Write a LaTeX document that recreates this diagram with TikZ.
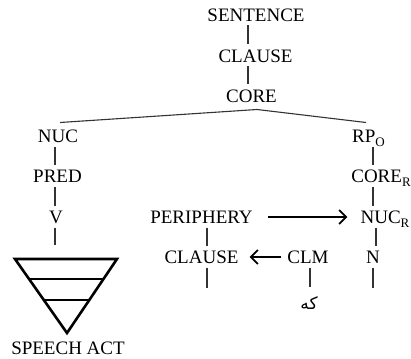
\documentclass[tikz,border=0pt]{standalone}
\usepackage{fontspec}
\setmainfont{Liberation Serif}
\newfontfamily\arabicfont[Script=Arabic]{DejaVu Sans}
\TeXXeTstate=1
\usetikzlibrary{calc,arrows.meta}
\newcommand\sub[1]{\raisebox{-4pt}{\fontsize{13}{13}\selectfont#1}}
\newcommand\stem[3]{\draw[branch](#1.south-|#3)--(#2.north-|#3);}

\begin{document}
\begin{tikzpicture}[x=1pt,y=-1pt,font=\fontsize{19}{22}\selectfont]
% Styles: labels, tree branches, arrows and the speech act triangle
\tikzstyle{label node}=[inner sep=0,text height=12.6pt,text depth=0pt];
\tikzstyle{branch}=[line width=1.1pt,black!80,shorten <=4pt,shorten >=5pt];
\tikzstyle{move}=[line width=1.8pt,-{Straight Barb[length=7pt,width=14pt]}];
\tikzstyle{act}=[line width=2.6pt,line join=miter];
\useasboundingbox(0,0)rectangle(411,358);
% columns of the stems
\coordinate(spine)at(248,0);
\coordinate(lcol)at(55,0);
\coordinate(rcol)at(373,0);
\coordinate(ncol)at(376,0);
\coordinate(pcol)at(207,0);
\coordinate(ccol)at(310,0);
% The labels
\node(sent)[label node]at(256,15){SENTENCE};
\node(cl)[label node]at(255.5,56){CLAUSE};
\node(core)[label node]at(251.5,96){CORE};
\node(nuc)[label node]at(58,136){NUC};
\node(pred)[label node]at(57.5,176){PRED};
\node(v)[label node]at(56,217){V};
\node(rpo)[label node]at(368.5,136){RP\sub{O}};
\node(corer)[label node]at(381,176){CORE\sub{R}};
\node(nucr)[label node]at(385,217){NUC\sub{R}};
\node(n)[label node]at(373,257){N};
\node(peri)[label node]at(201.5,217){PERIPHERY};
\node(clp)[label node]at(201.5,257){CLAUSE};
\node(clm)[label node]at(308,257){CLM};
\node(ke)[inner sep=0]at(309,303){\arabicfont\fontsize{17}{19}\selectfont\beginR که\endR};
\node(sa)[label node]at(68,348){SPEECH ACT};
% free ends of the stems
\coordinate(vstub)at(55,245);
\coordinate(pstub)at(207,288);
\coordinate(nstub)at(373,288);
% The tree
\stem{sent}{cl}{spine}
\stem{cl}{core}{spine}
\coordinate(fork)at([xshift=5.5pt,yshift=-7pt]core.south);
\draw[branch,shorten <=0pt,shorten >=0pt](fork)--([xshift=2pt,yshift=7pt]nuc.north);
\draw[branch,shorten <=0pt,shorten >=0pt](fork)--([xshift=-2.5pt,yshift=7pt]rpo.north);
\stem{nuc}{pred}{lcol}
\stem{pred}{v}{lcol}
\draw[branch,shorten >=0pt](v.south-|lcol)--(vstub);
\stem{rpo}{corer}{rcol}
\stem{corer}{nucr}{rcol}
\stem{nucr}{n}{ncol}
\draw[branch,shorten >=0pt](n.south-|rcol)--(nstub);
\stem{peri}{clp}{pcol}
\draw[branch,shorten >=0pt](clp.south-|pcol)--(pstub);
\draw[branch,shorten >=9pt](clm.south-|ccol)--(ke.north-|ccol);
% arrows
\draw[move,shorten <=15pt,shorten >=13pt](peri.east)--(nucr.west);
\draw[move,shorten <=6pt,shorten >=11pt](clm.west)--(clp.east);
% speech act triangle
\coordinate(tl)at(15,259);
\coordinate(tr)at(117,259);
\coordinate(ap)at(67,333);
\draw[act](tl)--(tr)--(ap)--cycle;
\draw[act]($(tl)!.27!(ap)$)--($(tr)!.27!(ap)$);
\draw[act]($(tl)!.555!(ap)$)--($(tr)!.555!(ap)$);
\end{tikzpicture}
\end{document}
